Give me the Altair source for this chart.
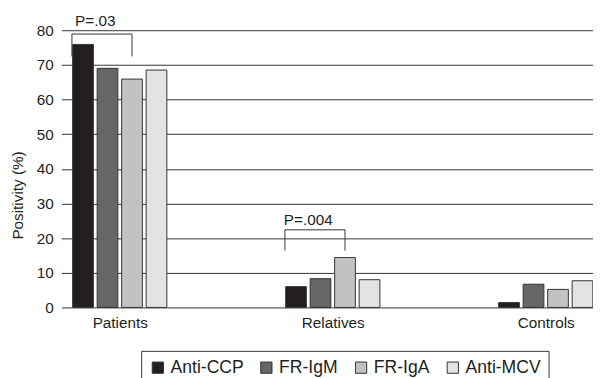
import json
import altair as alt
import pandas as pd

groups = ["Patients", "Relatives", "Controls"]
series = ["Anti-CCP", "FR-IgM", "FR-IgA", "Anti-MCV"]
anti_ccp = [75.9, 6.0, 1.4]
fr_igm = [69.0, 8.3, 6.7]
fr_iga = [65.9, 14.4, 5.2]
anti_mcv = [68.5, 8.0, 7.7]
colors = ["#231f20", "#666666", "#c2c2c2", "#e3e3e3"]
y_ticks = [0, 10, 20, 30, 40, 50, 60, 70, 80]

bracket_labels = ["P=.03", "P=.004"]
bracket_groups = ["Patients", "Relatives"]
bracket_from = ["Anti-CCP", "Anti-CCP"]
bracket_to = ["FR-IgA", "FR-IgA"]
bracket_top = [78.9, 22.4]
bracket_bottom = [72.4, 16.4]
bracket_label_y = [81.2, 23.8]

SLOT = 0.115  # spacing of bars inside a group, in group units

values = [anti_ccp, fr_igm, fr_iga, anti_mcv]
rows = []
for si, s in enumerate(series):
    for gi, g in enumerate(groups):
        rows.append({"group": g, "g": gi, "series": s, "s": si, "value": values[si][gi]})
df = pd.DataFrame(rows)

brows = []
for i, lab in enumerate(bracket_labels):
    gi = groups.index(bracket_groups[i])
    sf = series.index(bracket_from[i])
    st = series.index(bracket_to[i])
    brows.append({
        "label": lab,
        "xl": gi + (sf - 1.5) * SLOT - 0.052,
        "xr": gi + (st - 1.5) * SLOT,
        "xt": gi + (sf - 1.0) * SLOT,
        "top": bracket_top[i],
        "bottom": bracket_bottom[i],
        "ly": bracket_label_y[i],
    })
bdf = pd.DataFrame(brows)

FONT = "Liberation Sans"
xscale = alt.Scale(domain=[-0.2514, 2.1986], nice=False, zero=False)
yscale = alt.Scale(domain=[0, 80], nice=False)

label_expr = json.dumps(groups) + "[round(datum.value)]"

xaxis = alt.Axis(values=[0, 1, 2], labelExpr=label_expr, title=None,
                 grid=False, domain=False, ticks=False,
                 labelPadding=8, labelFontSize=15.5, labelFont=FONT,
                 labelColor="#231f20")
yaxis = alt.Axis(values=y_ticks, title="Positivity (%)", grid=True,
                 gridColor="#333333", gridWidth=1, domain=False, ticks=False,
                 labelPadding=8, labelFontSize=15.5, labelFont=FONT,
                 labelColor="#231f20", titleFont=FONT, titleFontSize=15.5,
                 titleFontWeight="normal", titleColor="#231f20",
                 titleAngle=-90, titleX=-44, titleY=167,
                 titleAlign="center", titleBaseline="middle",
                 labelOverlap=False)

bars = alt.Chart(df).transform_calculate(
    pos=f"datum.g + (datum.s - 1.5) * {SLOT}"
).mark_bar(size=21, stroke="#333333", strokeWidth=1).encode(
    x=alt.X("pos:Q", scale=xscale, axis=xaxis),
    y=alt.Y("value:Q", scale=yscale, axis=yaxis),
    color=alt.Color("series:N", scale=alt.Scale(domain=series, range=colors),
                    sort=series, title=None,
                    legend=alt.Legend(orient="none", legendX=81, legendY=325,
                                      direction="horizontal", strokeColor="#333333",
                                      padding=8, symbolType="square", symbolSize=130,
                                      symbolStrokeColor="#333333", symbolStrokeWidth=1,
                                      labelFont=FONT, labelFontSize=17.8,
                                      labelColor="#231f20", labelOffset=4,
                                      columnPadding=14)),
)

rule_style = dict(color="#333333", strokeWidth=1)
left_v = alt.Chart(bdf).mark_rule(**rule_style).encode(
    x=alt.X("xl:Q", scale=xscale, axis=xaxis),
    y=alt.Y("bottom:Q", scale=yscale, axis=yaxis), y2="top:Q")
right_v = alt.Chart(bdf).mark_rule(**rule_style).encode(
    x=alt.X("xr:Q", scale=xscale, axis=xaxis),
    y=alt.Y("bottom:Q", scale=yscale, axis=yaxis), y2="top:Q")
horiz = alt.Chart(bdf).mark_rule(**rule_style).encode(
    x=alt.X("xl:Q", scale=xscale, axis=xaxis), x2="xr:Q",
    y=alt.Y("top:Q", scale=yscale, axis=yaxis))
texts = alt.Chart(bdf).mark_text(font=FONT, fontSize=15.5, color="#231f20",
                                 baseline="alphabetic", align="center").encode(
    x=alt.X("xt:Q", scale=xscale, axis=xaxis),
    y=alt.Y("ly:Q", scale=yscale, axis=yaxis), text="label:N")

chart = alt.layer(bars, left_v, right_v, horiz, texts).properties(
    width=539, height=281,
    autosize=alt.AutoSizeParams(type="none"),
    padding={"left": 54, "top": 20, "right": 0, "bottom": 69},
    background="white",
).configure_view(stroke=None)

chart.save("out.html", embed_options={"renderer": "svg", "actions": False})
